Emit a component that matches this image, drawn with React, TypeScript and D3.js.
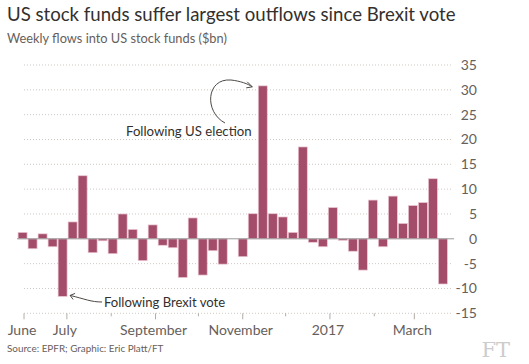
import { useEffect, useRef } from "react";
import * as d3 from "d3";

// weekly flows into US stock funds, $bn (one bar per week from end of May 2016)
const firstWeek = new Date(2016, 4, 31);
const flows = [
  1.3, -2.0, 1.0, -1.6, -11.6, 3.4, 12.7, -2.8, -0.4, -3.0, 5.0, 1.9, -4.4, 2.8,
  -1.3, -1.8, -7.8, 4.2, -7.3, -2.4, -5.1, 0, -3.6, 5.05, 30.8, 5.05, 4.4, 1.3,
  18.5, -0.7, -1.6, 6.3, -0.3, -2.5, -6.3, 7.8, -1.6, 8.6, 3.1, 6.7, 7.3, 12.1,
  -9.1,
];
const yTicks = [35, 30, 25, 20, 15, 10, 5, 0, -5, -10, -15];
const monthTicks = [
  { date: new Date(2016, 5, 1), label: "June" },
  { date: new Date(2016, 6, 1), label: "July" },
  { date: new Date(2016, 7, 1), label: "" },
  { date: new Date(2016, 8, 1), label: "September" },
  { date: new Date(2016, 9, 1), label: "" },
  { date: new Date(2016, 10, 1), label: "November" },
  { date: new Date(2016, 11, 1), label: "" },
  { date: new Date(2017, 0, 1), label: "2017" },
  { date: new Date(2017, 1, 1), label: "" },
  { date: new Date(2017, 2, 1), label: "March" },
];

const W = 529;
const H = 364;
const font = "Lato, sans-serif";

const App = () => {
  const svgRef = useRef<SVGSVGElement | null>(null);

  useEffect(() => {
    const svg = d3.select(svgRef.current);
    svg.selectAll("*").remove();

    const weeks = flows.map((v, i) => ({
      date: d3.timeWeek.offset(firstWeek, i),
      value: v,
    }));

    const x = d3
      .scaleTime()
      .domain([new Date(2016, 5, 1), new Date(2017, 2, 1)])
      .range([24, 414.3]);
    const y = d3.scaleLinear().domain([-15, 35]).range([313.3, 65]);
    const bw = 9;

    svg.append("rect").attr("width", W).attr("height", H).attr("fill", "#fff");

    // titles
    svg
      .append("text")
      .attr("x", 7)
      .attr("y", 21)
      .attr("font-size", 18.6)
      .attr("fill", "#33302e")
      .text("US stock funds suffer largest outflows since Brexit vote");
    svg
      .append("text")
      .attr("x", 7)
      .attr("y", 43)
      .attr("font-size", 12.8)
      .attr("fill", "#66605c")
      .text("Weekly flows into US stock funds ($bn)");

    // gridlines
    const grid = svg.append("g");
    grid
      .selectAll("line")
      .data(yTicks.filter((t) => t !== 0))
      .join("line")
      .attr("x1", 24)
      .attr("x2", 452)
      .attr("y1", (d) => y(d))
      .attr("y2", (d) => y(d))
      .attr("stroke", "#cfc8c2")
      .attr("stroke-width", 1)
      .attr("stroke-dasharray", "1,2");

    svg
      .append("g")
      .selectAll("text")
      .data(yTicks)
      .join("text")
      .attr("x", 477)
      .attr("y", (d) => y(d) + 5)
      .attr("text-anchor", "end")
      .attr("font-size", 14)
      .attr("fill", "#66605c")
      .text((d) => d);

    // x ticks
    const xa = svg.append("g");
    xa.selectAll("line")
      .data(monthTicks)
      .join("line")
      .attr("x1", (d) => x(d.date))
      .attr("x2", (d) => x(d.date))
      .attr("y1", y(-15))
      .attr("y2", (d) => y(-15) + (d.label ? 6 : 3))
      .attr("stroke", "#b3aca6");
    xa.selectAll("text")
      .data(monthTicks.filter((d) => d.label))
      .join("text")
      .attr("x", (d) => x(d.date) - 2)
      .attr("y", 335)
      .attr("text-anchor", "middle")
      .attr("font-size", 14)
      .attr("fill", "#66605c")
      .text((d) => d.label);

    // bars
    svg
      .append("g")
      .selectAll("rect")
      .data(weeks)
      .join("rect")
      .attr("x", (d) => x(d.date) - bw / 2)
      .attr("width", bw)
      .attr("y", (d) => y(Math.max(0, d.value)))
      .attr("height", (d) => Math.abs(y(d.value) - y(0)))
      .attr("fill", "#a34d6a")
      .attr("stroke", "#ecc9d4")
      .attr("stroke-width", 0.7);

    // zero line
    svg
      .append("line")
      .attr("x1", 17)
      .attr("x2", 454)
      .attr("y1", y(0))
      .attr("y2", y(0))
      .attr("stroke", "#999");

    // annotations
    const ann = svg.append("g").attr("fill", "none").attr("stroke", "#4d4845").attr("stroke-width", 1);
    const elec = weeks[24];
    const ex = x(elec.date) - bw / 2 - 6;
    const ey = y(elec.value) + 1;
    ann
      .append("path")
      .attr("d", `M225,123 C204,112 206,78 231,80 C240,81 ${ex - 4},${ey - 3} ${ex},${ey}`);
    ann
      .append("path")
      .attr("d", `M${ex - 5},${ey - 5} L${ex},${ey} L${ex - 6},${ey + 1}`);

    const brex = weeks[4];
    const bx = x(brex.date) + bw / 2 + 3;
    const by = y(brex.value) - 1;
    ann
      .append("path")
      .attr("d", `M102,302 C91,302 85,299 ${bx},${by}`);
    ann
      .append("path")
      .attr("d", `M${bx + 5},${by - 2} L${bx},${by} L${bx + 3},${by + 4}`);

    svg
      .append("text")
      .attr("x", 126)
      .attr("y", 136)
      .attr("font-size", 13.2)
      .attr("fill", "#33302e")
      .text("Following US election");
    svg
      .append("text")
      .attr("x", 104)
      .attr("y", 307)
      .attr("font-size", 13.1)
      .attr("fill", "#33302e")
      .text("Following Brexit vote");

    // footer
    svg
      .append("text")
      .attr("x", 7)
      .attr("y", 352)
      .attr("font-size", 9.9)
      .attr("fill", "#66605c")
      .text("Source: EPFR; Graphic: Eric Platt/FT");
    svg
      .append("text")
      .attr("x", 510)
      .attr("y", 357)
      .attr("text-anchor", "end")
      .attr("font-family", "'DejaVu Serif', serif")
      .attr("font-size", 21)
      .attr("fill", "#ccc")
      .text("FT");
  }, []);

  return (
    <svg
      ref={svgRef}
      width={W}
      height={H}
      fontFamily={font}
      style={{ position: "absolute", left: 0, top: 0, display: "block" }}
    />
  );
};

export default App;
